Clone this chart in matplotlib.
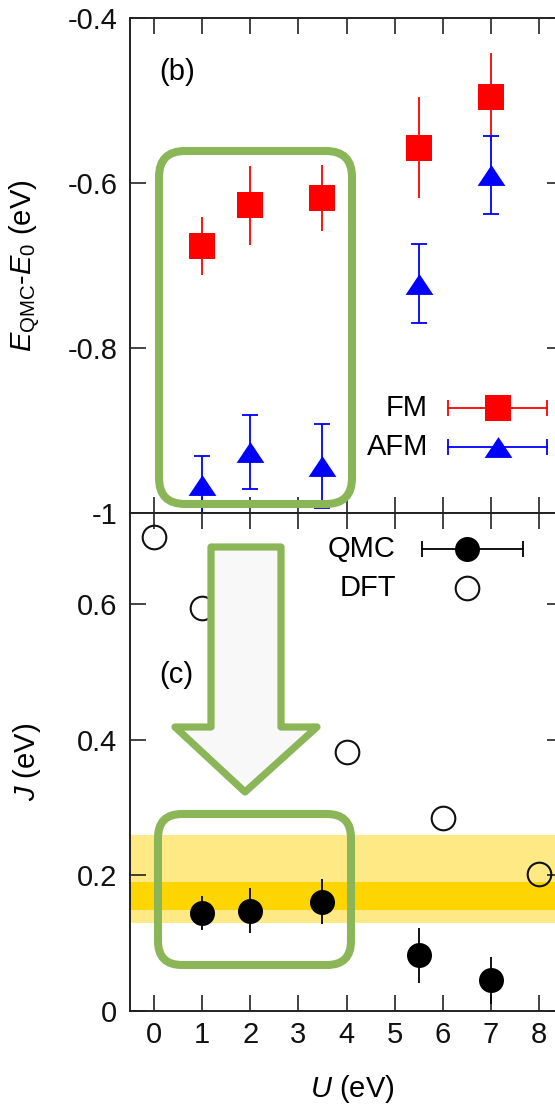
import numpy as np
import matplotlib.pyplot as plt
from matplotlib.patches import FancyBboxPatch, Polygon
from matplotlib.transforms import IdentityTransform

plt.rcParams['font.family'] = ['Liberation Sans', 'DejaVu Sans']
plt.rcParams['mathtext.fontset'] = 'custom'
plt.rcParams['mathtext.rm'] = 'Liberation Sans'
plt.rcParams['mathtext.it'] = 'Liberation Sans:italic'
plt.rcParams['axes.unicode_minus'] = False

# panel (b): QMC energies vs U
U_qmc = [1, 2, 3.5, 5.5, 7]
E_fm = [-0.676, -0.627, -0.618, -0.557, -0.496]
E_fm_err = [0.035, 0.048, 0.040, 0.061, 0.053]
E_afm = [-0.966, -0.926, -0.943, -0.722, -0.590]
E_afm_err = [0.035, 0.045, 0.051, 0.048, 0.047]

# panel (c): exchange J
J_qmc = [0.145, 0.148, 0.161, 0.082, 0.045]
J_qmc_err = [0.025, 0.033, 0.033, 0.040, 0.035]
U_dft = [0, 1, 4, 6, 8]
J_dft = [0.699, 0.594, 0.382, 0.284, 0.202]
band_outer = [0.129, 0.260]
band_inner = [0.149, 0.190]

xticks = [0, 1, 2, 3, 4, 5, 6, 7, 8]
yticks_b = [-1, -0.8, -0.6, -0.4]
ylabels_b = ['-1', '-0.8', '-0.6', '-0.4']
yticks_c = [0, 0.2, 0.4, 0.6]
ylabels_c = ['0', '0.2', '0.4', '0.6']

W, H = 555, 1108
fig = plt.figure(figsize=(W / 100, H / 100), dpi=100)
axb = fig.add_axes([130 / W, 1 - 513 / H, 433 / W, 495 / H])
axc = fig.add_axes([130 / W, 1 - 1011 / H, 433 / W, 498 / H])

FS = 21
tri = [(0, 0.75), (-1, -0.75), (1, -0.75), (0, 0.75)]
green = '#8BB658'

for ax in (axb, axc):
    ax.set_xlim(-0.5, 8.5)
    ax.set_xticks(xticks)
    ax.tick_params(direction='in', length=11.5, width=1.1, top=True, right=True,
                   labelsize=FS, pad=9, colors='#111111')
    ax.tick_params(axis='x', pad=7)
    for s in ax.spines.values():
        s.set_linewidth(1.4)
        s.set_color('#222222')

# (b)
axb.errorbar(U_qmc, E_fm, yerr=E_fm_err, fmt='s', color='red', ms=19, mew=0,
             capsize=5.8, elinewidth=1.3, capthick=1.3)
axb.errorbar(U_qmc, E_afm, yerr=E_afm_err, fmt='none', ecolor='blue',
             capsize=5.8, elinewidth=1.3, capthick=1.3)
axb.plot(U_qmc, E_afm, ls='none', marker=tri, color='blue', ms=20, mew=0)
axb.set_ylim(-1, -0.4)
axb.set_yticks(yticks_b)
axb.set_yticklabels(ylabels_b)
axb.tick_params(labelbottom=False)
axb.set_ylabel(r'$E_{\rm QMC}$-$E_0$ (eV)', fontsize=FS)
axb.yaxis.set_label_coords(-0.20, 0.5)
axb.text(0.108, 0.891, '(b)', transform=axb.transAxes, fontsize=FS, ha='center', va='center')

# legend (b)
for yy, lab, col, mk, ms in [(0.212, 'FM', 'red', 's', 19), (0.133, 'AFM', 'blue', tri, 20)]:
    axb.text(0.688, yy, lab, transform=axb.transAxes, fontsize=FS, ha='right', va='center')
    axb.plot([0.734, 0.963], [yy, yy], color=col, lw=1.3, transform=axb.transAxes, clip_on=False)
    axb.plot([0.734, 0.963], [yy, yy], ls='none', marker='|', ms=11.5, mew=1.3, color=col,
             transform=axb.transAxes, clip_on=False)
    axb.plot([0.850], [yy], ls='none', marker=mk, ms=ms, mew=0, color=col,
             transform=axb.transAxes, clip_on=False)

# (c)
axc.axhspan(band_outer[0], band_outer[1], color='#FFE985', lw=0, zorder=0)
axc.axhspan(band_inner[0], band_inner[1], color='#FFD500', lw=0, zorder=0)
axc.errorbar(U_qmc, J_qmc, yerr=J_qmc_err, fmt='o', color='black', ms=18, mew=0,
             capsize=5.8, elinewidth=1.3, capthick=1.3)
axc.plot(U_dft, J_dft, ls='none', marker='o', ms=17, mfc='none', mec='#111111', mew=1.5)
axc.set_ylim(0, 0.734)
axc.set_yticks(yticks_c)
axc.set_yticklabels(ylabels_c)
axc.set_ylabel(r'$J$ (eV)', fontsize=FS)
axc.yaxis.set_label_coords(-0.20, 0.5)
axc.set_xlabel(r'$U$ (eV)', fontsize=FS)
axc.xaxis.set_label_coords(0.513, -0.125)
axc.text(0.106, 0.675, '(c)', transform=axc.transAxes, fontsize=FS, ha='center', va='center')

# legend (c)
axc.text(0.614, 0.927, 'QMC', transform=axc.transAxes, fontsize=FS, ha='right', va='center')
axc.text(0.614, 0.850, 'DFT', transform=axc.transAxes, fontsize=FS, ha='right', va='center')
axc.plot([0.674, 0.907], [0.927, 0.927], color='black', lw=1.3, transform=axc.transAxes)
axc.plot([0.674, 0.907], [0.927, 0.927], ls='none', marker='|', ms=11.5, mew=1.3,
         color='black', transform=axc.transAxes)
axc.plot([0.7775], [0.927], ls='none', marker='o', ms=18, mew=0, color='black',
         transform=axc.transAxes)
axc.plot([0.7775], [0.850], ls='none', marker='o', ms=17, mfc='none', mec='#111111', mew=1.5,
         transform=axc.transAxes)

# green highlight boxes and arrow (pixel coordinates, origin top-left)
def box(x0, y0, x1, y1, r):
    p = FancyBboxPatch((x0, H - y1), x1 - x0, y1 - y0,
                       boxstyle='round,pad=0,rounding_size=%d' % r,
                       fill=False, ec=green, lw=5.8, transform=IdentityTransform())
    fig.add_artist(p)

box(159, 151, 352, 504, 26)
box(158, 814, 351, 965, 24)

arrow = [(211, 547), (281, 547), (281, 727), (317, 727), (245, 792), (175, 727), (211, 727)]
fig.add_artist(Polygon([(x, H - y) for x, y in arrow], closed=True, fc='#F8F8F8', ec=green,
                       lw=5.2, joinstyle='round', transform=IdentityTransform()))

fig.savefig('out.png', dpi=100)
